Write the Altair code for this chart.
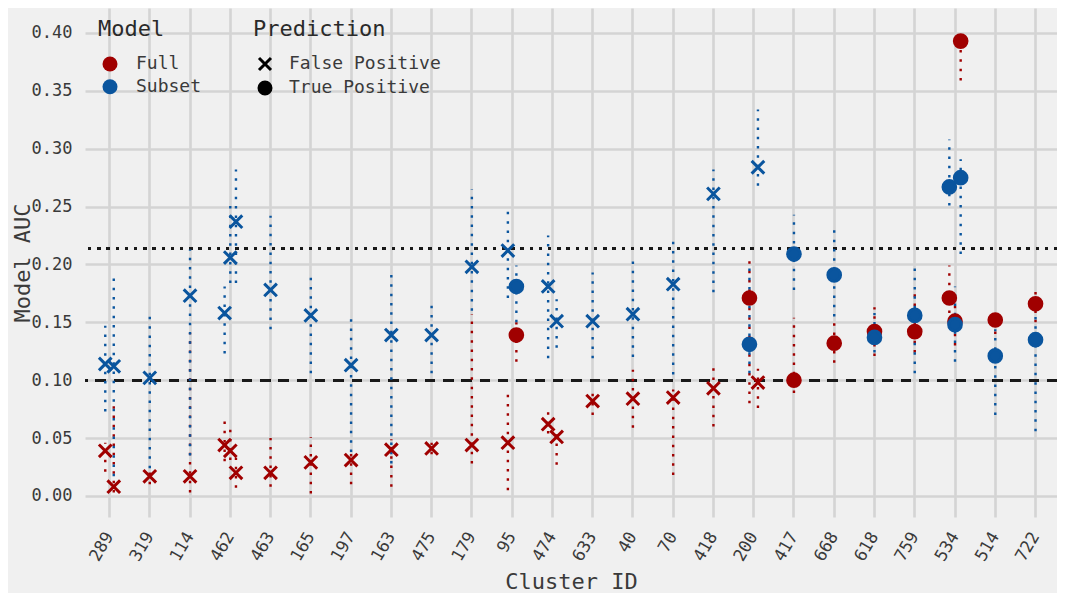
import altair as alt
import pandas as pd

# ---- data ----
clusters = ["289", "319", "114", "462", "463", "165", "197", "163", "475", "179", "95", "474",
            "633", "40", "70", "418", "200", "417", "668", "618", "759", "534", "514", "722"]

item_cluster = ["289", "289", "319", "114", "462", "462", "462", "463", "165", "197", "163", "475",
                "179", "95", "95", "474", "474", "633", "40", "70", "418", "200", "200", "417",
                "668", "618", "759", "534", "534", "534", "514", "722"]
item_pred = ["False Positive"] * 14 + ["True Positive"] + ["False Positive"] * 6 + \
            ["True Positive", "False Positive"] + ["True Positive"] * 9

full_auc = [0.039, 0.008, 0.017, 0.017, 0.044, 0.039, 0.020, 0.020, 0.029, 0.031, 0.040, 0.041,
            0.044, 0.046, 0.139, 0.062, 0.051, 0.082, 0.084, 0.085, 0.093, 0.171, 0.098, 0.100,
            0.132, 0.142, 0.142, 0.171, 0.151, 0.393, 0.152, 0.166]
full_lo = [0.021, 0.003, 0.010, 0.003, 0.030, 0.031, 0.007, 0.008, 0.002, 0.010, 0.008, 0.036,
           0.028, 0.005, 0.116, 0.054, 0.027, 0.070, 0.059, 0.018, 0.060, 0.080, 0.076, 0.089,
           0.115, 0.121, 0.124, 0.150, 0.130, 0.359, 0.140, 0.150]
full_hi = [0.046, 0.078, 0.025, 0.141, 0.066, 0.061, 0.033, 0.050, 0.051, 0.040, 0.049, 0.046,
           0.157, 0.089, 0.150, 0.075, 0.059, 0.090, 0.109, 0.092, 0.111, 0.204, 0.110, 0.154,
           0.155, 0.163, 0.178, 0.199, 0.165, 0.395, 0.155, 0.177]

subset_auc = [0.114, 0.112, 0.102, 0.173, 0.158, 0.206, 0.237, 0.178, 0.156, 0.113, 0.139, 0.139,
              0.198, 0.212, 0.181, 0.181, 0.151, 0.151, 0.157, 0.183, 0.261, 0.131, 0.284, 0.209,
              0.191, 0.137, 0.156, 0.267, 0.148, 0.275, 0.121, 0.135]
subset_lo = [0.073, 0.017, 0.024, 0.035, 0.123, 0.184, 0.184, 0.144, 0.106, 0.038, 0.028, 0.106,
             0.160, 0.171, 0.150, 0.119, 0.128, 0.119, 0.120, 0.105, 0.176, 0.106, 0.268, 0.178,
             0.155, 0.124, 0.106, 0.251, 0.116, 0.209, 0.070, 0.056]
subset_hi = [0.147, 0.188, 0.156, 0.213, 0.181, 0.252, 0.282, 0.242, 0.190, 0.158, 0.193, 0.165,
             0.265, 0.246, 0.199, 0.225, 0.170, 0.193, 0.204, 0.222, 0.282, 0.197, 0.334, 0.243,
             0.232, 0.158, 0.197, 0.308, 0.181, 0.291, 0.144, 0.155]

ref_dashed = 0.10
ref_dotted = 0.214
y_ticks = [0.0, 0.05, 0.10, 0.15, 0.20, 0.25, 0.30, 0.35, 0.40]

models = ["Full", "Subset"]
model_colors = ["#A00000", "#0A559E"]
preds = ["False Positive", "True Positive"]
pred_shapes = ["M-1,-1L1,1M-1,1L1,-1", "circle"]

# ---- build table ----
items = pd.DataFrame({"cluster": item_cluster, "pred": item_pred})
items["pos"] = items.groupby("cluster").cumcount()
items["n"] = items.groupby("cluster")["cluster"].transform("size")
items["dodge"] = (items["pos"] - (items["n"] - 1) / 2) / items["n"]

full = items.assign(model="Full", auc=full_auc, lo=full_lo, hi=full_hi)
sub = items.assign(model="Subset", auc=subset_auc, lo=subset_lo, hi=subset_hi)
df = pd.concat([full, sub], ignore_index=True)

FONT = "DejaVu Sans Mono"
TXT = "#3a3a3a"

x_enc = alt.X("cluster:N", sort=clusters,
              scale=alt.Scale(type="band", domain=clusters, paddingInner=1,
                              paddingOuter=0.571, align=0.533),
              axis=alt.Axis(title="Cluster ID", labelAngle=300, labelFontSize=17,
                            labelPadding=16, titleFontSize=22, titleY=71,
                            titleBaseline="alphabetic"))
xo_enc = alt.XOffset("dodge:Q", scale=alt.Scale(domain=[-0.5, 0.5], range=[-8.5, 8.5]))
y_scale = alt.Scale(domain=[-0.0182, 0.4216], nice=False, zero=False)
y_axis = alt.Axis(title="Model AUC", values=y_ticks, format=".2f", labelFontSize=17,
                  labelPadding=13, titleFontSize=22, titleX=-56,
                  titleBaseline="alphabetic")

model_scale = alt.Scale(domain=models, range=model_colors)
model_legend = alt.Legend(title="Model", orient="none", legendX=13, legendY=11,
                          symbolType="circle", symbolSize=225,
                          symbolStrokeWidth=0, symbolOffset=3,
                          labelOffset=17, rowPadding=4.7, titlePadding=14,
                          padding=0)

base = alt.Chart(df)

line_dash = alt.Chart(df).mark_rule(color="#1a1a1a", strokeWidth=2.5,
                                    strokeDash=[9.5, 8.8]).encode(y=alt.datum(ref_dashed))
line_dot = alt.Chart(df).mark_rule(color="#1a1a1a", strokeWidth=2.5,
                                   strokeDash=[2.5, 6.7]).encode(y=alt.datum(ref_dotted))

errs = base.mark_rule(strokeWidth=2.4, strokeDash=[2.5, 6.8]).encode(
    x=x_enc, xOffset=xo_enc,
    y=alt.Y("lo:Q", scale=y_scale, axis=y_axis), y2="hi:Q",
    stroke=alt.Stroke("model:N", scale=model_scale, legend=model_legend),
)

pts = base.mark_point(filled=True, size=160, strokeWidth=3, opacity=1).encode(
    x=x_enc, xOffset=xo_enc,
    y=alt.Y("auc:Q", scale=y_scale, axis=y_axis),
    fill=alt.Fill("model:N", scale=model_scale, legend=model_legend),
    stroke=alt.Stroke("model:N", scale=model_scale, legend=model_legend),
    shape=alt.Shape("pred:N", scale=alt.Scale(domain=preds, range=pred_shapes),
                    legend=alt.Legend(title="Prediction", orient="none", legendX=168, legendY=11,
                                      symbolSize=144, symbolFillColor="black",
                                      symbolStrokeColor="black", symbolStrokeWidth=3,
                                      symbolOffset=3, labelOffset=15, rowPadding=0,
                                      titlePadding=14, padding=0)),
    order=alt.Order("model:N"),
)

chart = alt.layer(line_dash, line_dot, errs, pts).properties(
    width=972, height=509,
    autosize=alt.AutoSizeParams(type="none"),
    padding={"left": 77, "top": 0, "right": 0, "bottom": 76},
    background="#f0f0f0",
).configure_view(stroke=None).configure_axis(
    labelFont=FONT, titleFont=FONT, labelColor=TXT, titleColor=TXT,
    titleFontWeight="normal", grid=True, gridColor="#d4d4d4", gridWidth=2.6,
    domain=False, ticks=False, tickSize=0,
).configure_legend(
    labelFont=FONT, titleFont=FONT, labelColor=TXT, titleColor="#2a2a2a",
    labelFontSize=18, titleFontSize=22, titleFontWeight="normal",
    titleBaseline="top", direction="vertical",
)

chart.save("out.html", embed_options={"renderer": "svg", "actions": False})
